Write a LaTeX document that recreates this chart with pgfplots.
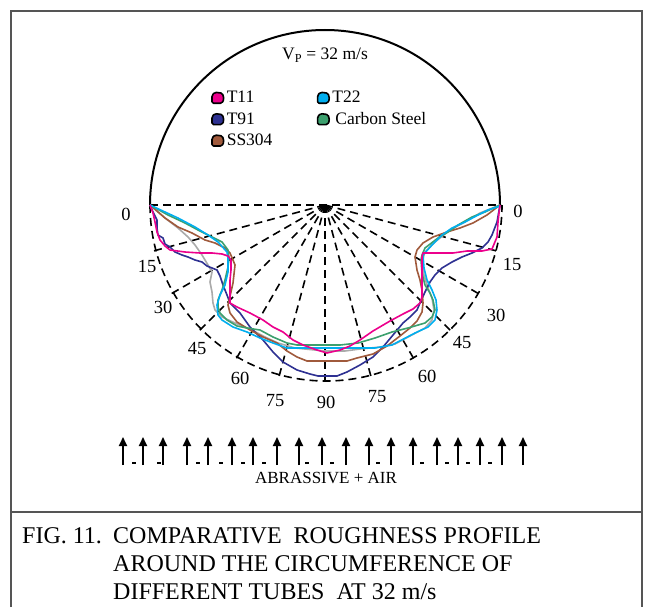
\documentclass[border=0pt]{standalone}
\usepackage{fontspec}
\setmainfont{Liberation Serif}
\usepackage{pgfplots}
\pgfplotsset{compat=1.18}
\usetikzlibrary{arrows.meta}
\definecolor{ct11}{RGB}{236,0,140}
\definecolor{ct91}{RGB}{46,49,146}
\definecolor{css}{RGB}{160,90,60}
\definecolor{ct22}{RGB}{0,174,239}
\definecolor{ccs}{RGB}{60,160,110}
\definecolor{cgr}{RGB}{170,170,170}
\definecolor{framec}{RGB}{85,85,85}
\newcommand{\lbl}{\fontsize{18.5bp}{20bp}\selectfont}
\newcommand{\capf}{\fontsize{24bp}{28bp}\selectfont}
\begin{document}
\begin{tikzpicture}
\begin{axis}[
  scale only axis, width=646bp, height=607bp,
  xmin=0, xmax=646, ymin=0, ymax=607, y dir=reverse,
  hide axis, clip=false,
  legend columns=2,
  legend cell align=left,
  legend style={at={(0.3266,0.8534)}, anchor=north west, draw=none, fill=none,
    inner sep=0pt, row sep=4bp, column sep=0pt,
    nodes={inner sep=2bp, anchor=west},
    font=\fontsize{17.5bp}{20bp}\selectfont},
  legend image code/.code={\filldraw[#1,draw=black,line width=1.6bp,rounded corners=1.5bp]
     (0bp,-5.5bp) -- (10bp,-5.5bp) -- (12bp,-1.5bp) -- (10.5bp,4.5bp) -- (3bp,5.5bp) -- (0bp,2.5bp) -- cycle;},
  every axis plot/.append style={line width=1.6bp, line join=round},
]
\path (axis cs:0,0) rectangle (axis cs:646,607);
% frame
\draw[framec, line width=1.5bp] (axis cs:11,607) -- (axis cs:11,11) -- (axis cs:642,11) -- (axis cs:642,607);
\draw[framec, line width=1.5bp] (axis cs:11,512) -- (axis cs:642,512);
\coordinate (C) at (axis cs:325,205);
% top solid arc
\draw[line width=2bp] (axis cs:150,205) arc[start angle=180, end angle=0, radius=175bp];
% dashed lower half
\draw[line width=1.6bp, dash pattern=on 8bp off 5bp] (axis cs:150,205) arc[start angle=180, end angle=360, radius=176bp];
\draw[line width=1.6bp, dash pattern=on 8bp off 5bp] (axis cs:150,205) -- (axis cs:500,205);
\pgfplotsinvokeforeach{15,30,...,165}{\draw[line width=1.6bp, dash pattern=on 8bp off 5bp] (C) -- ++({180+#1}:180bp);}
% angle labels
\node[font=\lbl] at (axis cs:126,214) {0};
\node[font=\lbl] at (axis cs:147,266) {15};
\node[font=\lbl] at (axis cs:163,307) {30};
\node[font=\lbl] at (axis cs:197,348) {45};
\node[font=\lbl] at (axis cs:240,378) {60};
\node[font=\lbl] at (axis cs:275,401) {75};
\node[font=\lbl] at (axis cs:326,402) {90};
\node[font=\lbl] at (axis cs:518,211) {0};
\node[font=\lbl] at (axis cs:512,264) {15};
\node[font=\lbl] at (axis cs:496,315) {30};
\node[font=\lbl] at (axis cs:462,342) {45};
\node[font=\lbl] at (axis cs:427,376) {60};
\node[font=\lbl] at (axis cs:377,397) {75};
% title
\node[font=\fontsize{17.5bp}{20bp}\selectfont] at (axis cs:325,55) {V\textsubscript{P} = 32 m/s};
% arrows
\pgfplotsinvokeforeach{123,143,163,187,208,232,253,277,299,322,346,369,391,413,437,458,480,502,523}{%
  \draw[line width=1.8bp, -{Triangle[length=9bp,width=8bp]}] (axis cs:#1,465) -- (axis cs:#1,437);}
\pgfplotsinvokeforeach{132,157,196,219,241,262,305,330,376,420,445,466,488}{%
  \draw[line width=1.5bp] (axis cs:#1,463) -- (axis cs:#1+4,463);}
\node[font=\fontsize{17bp}{20bp}\selectfont] at (axis cs:326,478) {ABRASSIVE + AIR};
% caption
\node[font=\capf, anchor=base west, inner sep=0pt] at (axis cs:22,543) {FIG. 11.};
\node[font=\capf, anchor=base west, inner sep=0pt] at (axis cs:113,543) {COMPARATIVE\ \ ROUGHNESS PROFILE};
\node[font=\capf, anchor=base west, inner sep=0pt] at (axis cs:113,571) {AROUND THE CIRCUMFERENCE OF};
\node[font=\capf, anchor=base west, inner sep=0pt] at (axis cs:113,599) {DIFFERENT TUBES\ \ AT 32 m/s};

% gray (unlabelled)
\addplot[cgr, forget plot] coordinates {(150,205)(165,218)(178,228)(188,237)(195,245)(202,255)(208,265)(212,272)(210,282)(212,292)(213,303)(215,310)(222,317)(235,323)(252,330)(265,337)(278,343)(295,348)(325,351)(345,351)(360,349)(380,347)(395,344)(410,336)(425,328)(432,320)(434,310)(432,298)(428,288)(424,275)(422,262)(425,252)(435,242)(450,230)(465,222)(480,213)(500,205)};
% T91
\addplot[ct91, forget plot] coordinates {(150,205)(153,212)(157,220)(157,228)(158,235)(163,238)(165,244)(170,247)(175,252)(182,255)(188,257)(195,260)(202,262)(207,266)(212,268)(217,270)(220,276)(223,285)(227,295)(230,303)(240,313)(250,327)(263,340)(273,352)(283,362)(297,370)(310,374)(318,376)(337,376)(347,372)(360,365)(373,357)(383,347)(393,335)(403,323)(410,317)(417,310)(420,303)(425,292)(430,282)(435,275)(442,268)(452,262)(462,257)(472,253)(482,248)(488,242)(492,235)(497,222)(500,205)};
% SS304
\addplot[css, forget plot] coordinates {(150,205)(165,218)(178,227)(192,233)(205,240)(215,243)(225,248)(230,253)(233,260)(235,265)(233,283)(231,292)(228,305)(230,313)(237,322)(250,330)(263,337)(277,343)(287,351)(297,357)(307,361)(347,361)(357,358)(373,354)(387,346)(400,336)(410,328)(417,321)(422,312)(423,303)(422,290)(420,280)(417,270)(415,257)(417,250)(423,243)(433,237)(447,232)(460,228)(473,223)(487,215)(500,205)};
% Carbon steel
\addplot[ccs, forget plot] coordinates {(150,205)(168,215)(185,223)(198,230)(212,237)(222,242)(228,250)(229,258)(228,267)(225,280)(222,290)(218,300)(218,307)(220,313)(227,320)(237,326)(247,328)(260,330)(273,337)(287,343)(297,345)(340,345)(358,343)(375,338)(392,332)(408,328)(425,323)(432,317)(435,310)(433,300)(430,293)(425,285)(422,273)(421,260)(422,255)(425,248)(438,238)(448,232)(458,225)(472,217)(485,212)(500,205)};
% T22
\addplot[ct22, forget plot] coordinates {(150,205)(165,212)(178,218)(195,227)(208,235)(218,242)(227,252)(228,258)(228,272)(225,285)(220,295)(217,305)(218,315)(222,320)(233,327)(247,332)(260,338)(273,343)(287,348)(300,348)(340,348)(375,348)(392,345)(415,333)(428,327)(435,320)(437,310)(436,300)(432,290)(427,280)(424,268)(423,255)(432,245)(442,235)(452,228)(465,222)(478,215)(488,210)(500,206)};
% T11
\addplot[ct11, forget plot] coordinates {(150,205)(153,213)(155,222)(157,232)(160,240)(165,246)(170,250)(185,252)(200,253)(212,253)(222,254)(228,256)(231,260)(231,270)(230,280)(230,290)(230,303)(237,307)(250,313)(263,320)(273,327)(283,332)(293,340)(303,345)(317,350)(327,353)(340,350)(350,346)(360,340)(373,331)(390,321)(403,314)(413,309)(420,303)(422,297)(422,277)(422,257)(423,253)(440,253)(453,253)(467,251)(482,251)(492,249)(497,237)(498,222)(499,213)(500,205)};

\addlegendimage{fill=ct11}\addlegendentry{\makebox[88bp][l]{T11}}
\addlegendimage{fill=ct22}\addlegendentry{T22}
\addlegendimage{fill=ct91}\addlegendentry{\makebox[88bp][l]{T91}}
\addlegendimage{fill=ccs}\addlegendentry{\hspace{3bp}Carbon Steel}
\addlegendimage{fill=css}\addlegendentry{\makebox[88bp][l]{SS304}}
\end{axis}
\end{tikzpicture}
\end{document}
